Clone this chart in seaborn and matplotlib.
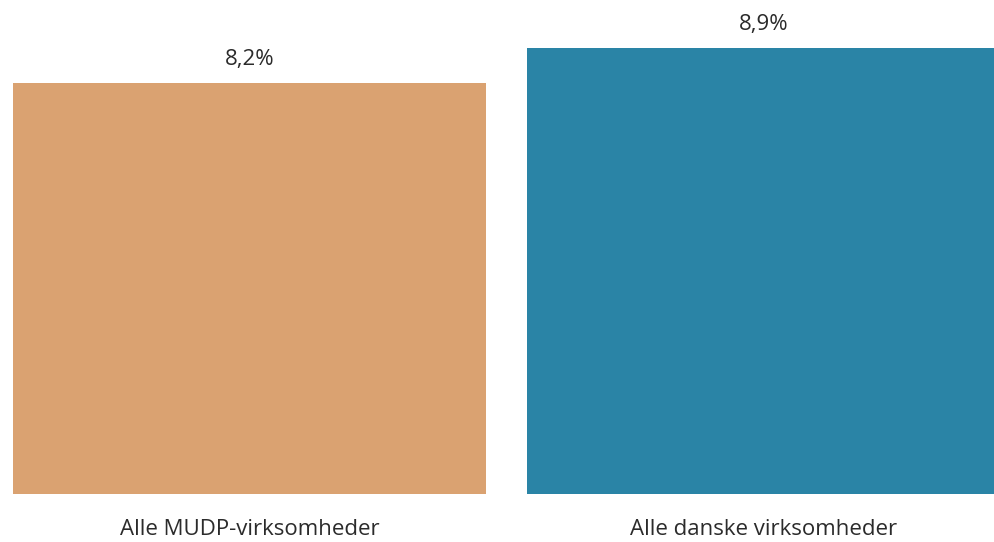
import matplotlib
matplotlib.use('Agg')
import matplotlib.pyplot as plt
import seaborn as sns
import pandas as pd

# Data
categories = ['Alle MUDP-virksomheder', 'Alle danske virksomheder']
values = [8.2, 8.9]
labels = ['8,2%', '8,9%']
colors = ['#DAA271', '#2A84A6']

sns.set_theme(style='white')
plt.rcParams['font.family'] = ['Open Sans', 'DejaVu Sans']

df = pd.DataFrame({'cat': categories, 'val': values})

fig = plt.figure(figsize=(9.94, 5.42), dpi=100)
ax = fig.add_axes([0.0, 0.0885, 1.0, 0.9115])

sns.barplot(data=df, x='cat', y='val', hue='cat', palette=colors,
            width=0.92, legend=False, saturation=1, linewidth=0, ax=ax)

for i, (v, lab) in enumerate(zip(values, labels)):
    ax.annotate(lab, (i, v), xytext=(0, 9), textcoords='offset points',
                ha='center', va='bottom', fontsize=16, color='#2b2b2b')

ax.set_xlim(-0.485, 1.447)
ax.set_ylim(0, 9.85)
ax.set_xlabel('')
ax.set_ylabel('')
ax.set_yticks([])
ax.tick_params(axis='x', length=0, pad=18, labelsize=16, labelcolor='#2b2b2b')
for t in ax.get_xticklabels():
    t.set_fontfamily(['Open Sans', 'DejaVu Sans'])
sns.despine(ax=ax, left=True, bottom=True, top=True, right=True)

fig.savefig('out.png', dpi=100)
